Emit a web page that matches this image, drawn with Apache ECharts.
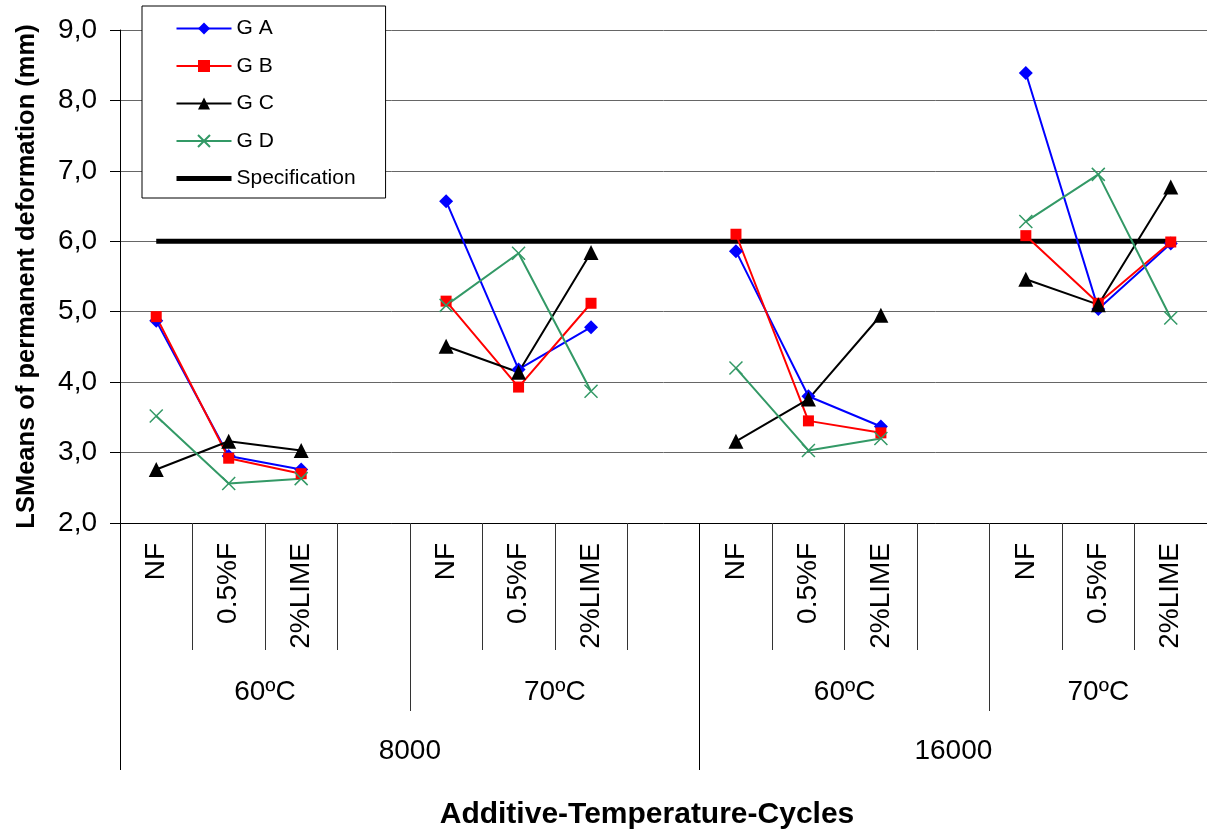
<!DOCTYPE html>
<html>
<head>
<meta charset="utf-8">
<script src="https://cdn.jsdelivr.net/npm/echarts@6/dist/echarts.min.js"></script>
<style>
  html, body { margin: 0; padding: 0; background: #fff; }
</style>
</head>
<body>
<div id="chart" style="width: 1207px; height: 831px;"></div>
<script>
// categories along the axis ('' = empty slot between groups)
const categories = ['NF', '0.5%F', '2%LIME', '', 'NF', '0.5%F', '2%LIME', '', 'NF', '0.5%F', '2%LIME', '', 'NF', '0.5%F', '2%LIME'];
const tempLabels = ['60ºC', '70ºC', '60ºC', '70ºC'];
const cycleLabels = ['8000', '16000'];

const gA = [4.87, 2.95, 2.76, null, 6.57, 4.18, 4.78, null, 5.86, 3.80, 3.37, null, 8.39, 5.04, 5.97];
const gB = [4.93, 2.92, 2.70, null, 5.15, 3.93, 5.12, null, 6.10, 3.45, 3.28, null, 6.08, 5.12, 5.99];
const gC = [2.76, 3.16, 3.03, null, 4.51, 4.14, 5.84, null, 3.16, 3.76, 4.95, null, 5.46, 5.10, 6.77];
const gD = [3.52, 2.56, 2.63, null, 5.09, 5.83, 3.87, null, 4.20, 3.03, 3.20, null, 6.28, 6.95, 4.91];
const specification = [6, 6, 6, 6, 6, 6, 6, 6, 6, 6, 6, 6, 6, 6, 6];

const FONT = 'Liberation Sans, Arial, sans-serif';

// group bounds worked out from the empty slots
const seps = categories.map((c, i) => c === '' ? i : -1).filter(i => i >= 0);
const tempBounds = [0].concat(seps.map(i => i + 1), [categories.length]); // 0,4,8,12,15
const cycleBounds = tempBounds.filter((b, i) => i % 2 === 0 || i === tempBounds.length - 1); // 0,8,15
const tempCenters = tempLabels.map((_, i) => (tempBounds[i] + tempBounds[i + 1]) / 2);
const cycleCenters = cycleLabels.map((_, i) => (cycleBounds[i] + cycleBounds[i + 1]) / 2);
const tempTicks = tempBounds.slice(1, -1).filter(b => cycleBounds.indexOf(b) < 0);
const cycleTicks = cycleBounds.slice(0, -1);

function lookup(centers, labels) {
  return v => {
    const i = centers.findIndex(c => Math.abs(c - v) < 1e-6);
    return i >= 0 ? labels[i] : '';
  };
}

const chart = echarts.init(document.getElementById('chart'));

const lineSeries = (name, data, color, symbol, size, extra) => Object.assign({
  name: name,
  type: 'line',
  data: data,
  xAxisIndex: 0,
  connectNulls: false,
  symbol: symbol,
  symbolSize: size,
  lineStyle: { color: color, width: 2 },
  itemStyle: { color: color },
  animation: false
}, extra || {});

const option = {
  animation: false,
  textStyle: { fontFamily: FONT },
  grid: { left: 120, top: 30, width: 1093, height: 493 },
  legend: {
    left: 142,
    top: 6,
    orient: 'vertical',
    padding: [12, 30, 9, 32],
    itemWidth: 55,
    itemHeight: 15,
    itemGap: 16.5,
    backgroundColor: '#fff',
    borderColor: '#000',
    borderWidth: 1,
    textStyle: { fontFamily: FONT, fontSize: 21, color: '#000' },
    data: ['G A', 'G B', 'G C', 'G D', {
      name: 'Specification',
      itemStyle: { opacity: 0 },
      lineStyle: { width: 5, color: '#000' }
    }]
  },
  xAxis: [
    {
      type: 'category',
      data: categories,
      boundaryGap: true,
      axisLine: { show: true, lineStyle: { color: '#000', width: 1 } },
      axisTick: { show: true, interval: 0, length: 127, lineStyle: { color: '#333', width: 1 } },
      axisLabel: { show: true, interval: 0, rotate: 90, margin: 20, fontSize: 28, color: '#000', fontFamily: FONT }
    },
    {
      type: 'value',
      min: 0,
      max: categories.length,
      position: 'bottom',
      axisLine: { show: false },
      splitLine: { show: false },
      axisTick: { show: true, customValues: tempTicks, length: 188, lineStyle: { color: '#333' } },
      axisLabel: { customValues: tempCenters, formatter: lookup(tempCenters, tempLabels), margin: 155, fontSize: 28, color: '#000', fontFamily: FONT }
    },
    {
      type: 'value',
      min: 0,
      max: categories.length,
      position: 'bottom',
      axisLine: { show: false },
      splitLine: { show: false },
      axisTick: { show: true, customValues: cycleTicks, length: 247, lineStyle: { color: '#000' } },
      axisLabel: { customValues: cycleCenters, formatter: lookup(cycleCenters, cycleLabels), margin: 214, fontSize: 28, color: '#000', fontFamily: FONT }
    }
  ],
  yAxis: {
    type: 'value',
    min: 2,
    max: 9,
    interval: 1,
    name: 'LSMeans of permanent deformation (mm)',
    nameLocation: 'middle',
    nameGap: 80,
    nameTextStyle: { fontSize: 25.5, fontWeight: 'bold', color: '#000', fontFamily: FONT },
    axisLine: { show: true, lineStyle: { color: '#000', width: 1 } },
    axisTick: { show: true, length: 10, lineStyle: { color: '#000' } },
    axisLabel: { margin: 23, fontSize: 28, color: '#000', fontFamily: FONT, formatter: v => v.toFixed(1).replace('.', ',') },
    splitLine: { lineStyle: { color: '#666', width: 1 } }
  },
  graphic: [{
    type: 'text',
    x: 647,
    y: 815,
    style: {
      text: 'Additive-Temperature-Cycles',
      fontFamily: FONT,
      fontSize: 30,
      fontWeight: 'bold',
      fill: '#000',
      textAlign: 'center',
      textVerticalAlign: 'middle'
    }
  }],
  series: [
    lineSeries('G A', gA, '#0000ff', 'diamond', 14),
    lineSeries('G B', gB, '#ff0000', 'rect', 11),
    lineSeries('G C', gC, '#000000', 'triangle', 15),
    lineSeries('G D', gD, '#339966', 'path://M0,0L10,10M10,0L0,10', 13, {
      itemStyle: { color: '#339966', borderColor: '#339966', borderWidth: 1.5 }
    }),
    {
      name: 'Specification',
      type: 'line',
      data: specification,
      symbol: 'none',
      lineStyle: { color: '#000', width: 5 },
      itemStyle: { color: '#000' },
      z: 1
    }
  ]
};

chart.setOption(option);
</script>
</body>
</html>
